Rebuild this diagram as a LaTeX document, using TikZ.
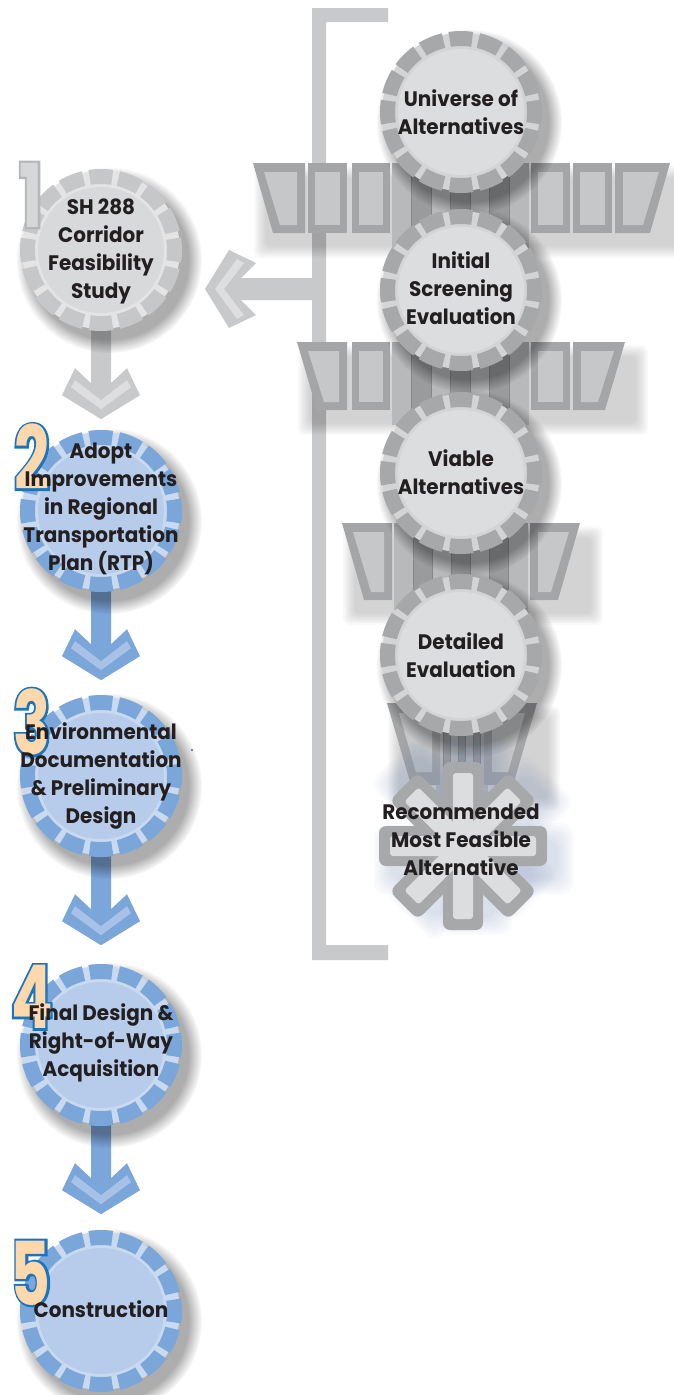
\documentclass[tikz,border=0pt]{standalone}
\usepackage{fontspec}
\setmainfont{Poppins}[FakeStretch=0.95]
\newfontfamily\numfont{Poppins}[FakeStretch=0.7]
\newfontfamily\numfontol{Poppins}[FakeStretch=0.7, FakeBold=5]
\usetikzlibrary{fadings,calc}
\definecolor{txt}{HTML}{231F20}
\definecolor{gseg}{HTML}{A7A8AA}
\definecolor{gring}{HTML}{D3D4D6}
\definecolor{gdisk}{HTML}{DCDDDE}
\definecolor{lseg}{HTML}{C6C7C9}
\definecolor{lring}{HTML}{E4E4E5}
\definecolor{ldisk}{HTML}{D8D9DA}
\definecolor{bseg}{HTML}{7BA6DA}
\definecolor{bring}{HTML}{C9D9EF}
\definecolor{bdisk}{HTML}{B7CCEA}
\definecolor{peach}{HTML}{FCD8AC}
\definecolor{numblue}{HTML}{1C75BC}
\definecolor{ngray}{HTML}{D6D7D9}
\definecolor{ngrayd}{HTML}{B5B6B8}
\definecolor{brk}{HTML}{C8C9CB}
\definecolor{blkout}{HTML}{A4A5A7}
\definecolor{blkin}{HTML}{C6C7C9}
\definecolor{stripA}{HTML}{B8B9BB}
\definecolor{stripB}{HTML}{9A9B9D}
\definecolor{stripD}{HTML}{86878A}
\definecolor{arrG}{HTML}{C8C9CB}
\definecolor{arrGl}{HTML}{DEDEE0}
\definecolor{arrB}{HTML}{7BA6DA}
\definecolor{arrBl}{HTML}{A8C2E7}
\definecolor{starin}{HTML}{DCDDDE}
\definecolor{starsh}{HTML}{7F92B8}
\newcommand\rblk[4]{%
  \fill[blkout] (#1,#3) rectangle (#2,#4);
  \fill[blkin] (#1+7,#3+9) rectangle (#2-7,#4-8);}
\newcommand\lblk[5]{%
  \fill[blkout] (#1,#3) -- (#2,#3) -- (#2,#4) -- (#1+#5,#4) -- cycle;
  \fill[blkin] (#1+11,#3+9) -- (#2-8,#3+9) -- (#2-8,#4-8) -- (#1+#5+7,#4-8) -- cycle;}
\newcommand\rtblk[5]{%
  \fill[blkout] (#1,#3) -- (#2,#3) -- (#2-#5,#4) -- (#1,#4) -- cycle;
  \fill[blkin] (#1+8,#3+9) -- (#2-11,#3+9) -- (#2-#5-7,#4-8) -- (#1+8,#4-8) -- cycle;}
\newcommand\stripsb[4]{%
  \fill[stripB] (#1,#3) rectangle (#2,#4);
  \foreach \i in {0,2,4,6}{\fill[stripA] ({#1+(#2-#1)*\i/7},#3) rectangle ({#1+(#2-#1)*(\i+1)/7},#4);}
  \foreach \i in {1,...,6}{\draw[stripD, line width=1pt] ({#1+(#2-#1)*\i/7},#3) -- ({#1+(#2-#1)*\i/7},#4);}}
\newcommand\softshadow[4]{%
  \foreach \k in {1,...,8}{\fill[black, opacity=0.022, rounded corners=6] (#1+14-\k*1.6,#2+16-\k*1.6) rectangle (#3+10+\k*1.6,#4+12+\k*1.6);}}
\newcommand\gearshadow[2]{%
  \fill[#2, opacity=0.32, path fading=circle with fuzzy edge 15 percent] ($(#1)+(8,10)$) circle (93);}
\newcommand\gearbody[4]{%
  \fill[#3] (#1) circle (79);
  \draw[#2, line width=15pt, dash pattern=on 22.5pt off 6.36pt, dash phase=11.25pt] (#1) circle (73.5);
  \fill[#4] (#1) circle (63);}
\begin{document}
\begin{tikzpicture}[x=1pt,y=-1pt,
  gearnode/.style={circle, minimum size=162pt, inner sep=0pt},
  lbl/.style={align=center, text=txt, font=\fontsize{21}{28}\selectfont\bfseries, inner sep=0pt},
  numol/.style={font=\numfontol\bfseries\fontsize{88}{88}\selectfont, inner sep=0pt},
  numlbl/.style={font=\numfont\bfseries\fontsize{88}{88}\selectfont, inner sep=0pt},
  pics/dnarrow/.style n args={4}{code={
    \fill[#1] (-#4,0) -- (-#4,#3-36) -- (-26,#3-51) -- (-39,#3-24) -- (0,#3) -- (39,#3-24) -- (26,#3-51) -- (#4,#3-36) -- (#4,0) -- cycle;
    \fill[#2] (-30,#3-32) -- (0,#3-10) -- (30,#3-32) -- (26,#3-39) -- (0,#3-19) -- (-26,#3-39) -- cycle;
  }}]
\useasboundingbox (0,0) rectangle (673,1395);

% anchor nodes for the gears
\node[gearnode] (g1) at (101,250) {};
\node[gearnode] (g2) at (101,511) {};
\node[gearnode] (g3) at (101,776) {};
\node[gearnode] (g4) at (101,1045) {};
\node[gearnode] (g5) at (101,1311) {};
\node[gearnode] (ga) at (461,112) {};
\node[gearnode] (gb) at (461,290) {};
\node[gearnode] (gc) at (461,473) {};
\node[gearnode] (gd) at (461,655) {};
\coordinate (st) at (463,846);
\coordinate (brkj) at (320,289);

% bracket
\fill[brk] (312,8) -- (388,8) -- (388,22) -- (326,22) -- (326,945) -- (388,945) -- (388,960) -- (312,960) -- cycle;

% funnel shadows
\softshadow{253}{163}{670}{233}
\softshadow{297}{342}{625}{410}
\softshadow{342}{523}{580}{600}
\softshadow{387}{703}{537}{785}

% funnel row 1
\stripsb{392}{529}{163}{250}
\lblk{253}{305}{163}{233}{20}
\rblk{308}{347}{163}{233}
\rblk{352}{390}{163}{233}
\rblk{531}{570}{163}{233}
\rblk{573}{612}{163}{233}
\rtblk{615}{670}{163}{233}{20}
% row 2
\stripsb{392}{529}{342}{425}
\lblk{297}{347}{342}{410}{20}
\rblk{352}{390}{342}{410}
\rblk{531}{570}{342}{410}
\rtblk{573}{625}{342}{410}{20}
% row 3
\stripsb{394}{528}{523}{610}
\lblk{342}{392}{523}{600}{22}
\rtblk{530}{580}{523}{600}{22}
% row 4
\stripsb{436}{488}{703}{800}
\fill[blkout] (387,703) -- (440,703) -- (440,785) -- (411,785) -- cycle;
\fill[blkout] (484,703) -- (537,703) -- (513,785) -- (484,785) -- cycle;
\fill[blkin] (399,713) -- (432,713) -- (432,772) -- (416,772) -- cycle;
\fill[blkin] (492,713) -- (525,713) -- (508,772) -- (492,772) -- cycle;

% arrows
\pic[rotate=-90] at (brkj) {dnarrow={arrG}{arrGl}{115}{11}};
\pic at ($(g1.south)+(0,-4)$) {dnarrow={arrG}{arrGl}{92}{10}};
\pic at ($(g2.south)+(0,-4)$) {dnarrow={arrB}{arrBl}{92}{10}};
\pic at ($(g3.south)+(0,-4)$) {dnarrow={arrB}{arrBl}{92}{10}};
\pic at ($(g4.south)+(0,-4)$) {dnarrow={arrB}{arrBl}{92}{10}};

% gear shadows
\foreach \g in {g1,g2,g3,g4,g5,ga,gb,gc,gd}{\gearshadow{\g}{black}}

% gears
\gearbody{g1}{lseg}{lring}{ldisk}
\gearbody{g2}{bseg}{bring}{bdisk}
\gearbody{g3}{bseg}{bring}{bdisk}
\gearbody{g4}{bseg}{bring}{bdisk}
\gearbody{g5}{bseg}{bring}{bdisk}
\gearbody{ga}{gseg}{gring}{gdisk}
\gearbody{gb}{gseg}{gring}{gdisk}
\gearbody{gc}{gseg}{gring}{gdisk}
\gearbody{gd}{gseg}{gring}{gdisk}

% star (recommended alternative)
\begin{scope}[shift={(st)}]
  \foreach \k in {1,...,9}{
    \foreach \a in {0,45,90,135}{
      \fill[starsh, opacity=0.035, rounded corners=12, rotate=\a, xshift=11pt, yshift=-13pt] (-82-\k*2,-18-\k*2) rectangle (82+\k*2,18+\k*2);}}
  \foreach \a in {0,45,90,135}{\fill[gseg, rounded corners=7, rotate=\a] (-84,-20) rectangle (84,20);}
  \foreach \a in {0,45,90,135}{\fill[starin, rounded corners=3, rotate=\a] (-73,-10) rectangle (73,10);}
\end{scope}

% numbers (outline layer, then fill layer)
\node[numol, text=ngrayd] (o1) at (31,195) {1};
\node[numlbl, text=ngray] (n1) at (o1) {1};
\node[numol, text=numblue] (o2) at (32,457) {2};
\node[numlbl, text=peach] (n2) at (o2) {2};
\node[numol, text=numblue] (o3) at (32,722) {3};
\node[numlbl, text=peach] (n3) at (o3) {3};
\node[numol, text=numblue] (o4) at (32,997) {4};
\node[numlbl, text=peach] (n4) at (o4) {4};
\node[numol, text=numblue] (o5) at (31,1273) {5};
\node[numlbl, text=peach] (n5) at (o5) {5};

% texts
\node[lbl] (t1) at (101,251) {SH 288\\Corridor\\Feasibility\\Study};
\node[lbl] (t2) at (101,509) {Adopt\\Improvements\\in Regional\\Transportation\\Plan (RTP)};
\node[lbl] (t3) at (101,776) {Environmental\\Documentation\\\& Preliminary\\Design};
\node[lbl] (t4) at (101,1043) {Final Design \&\\Right-of-Way\\Acquisition};
\node[lbl] (t5) at (101,1309) {Construction};
\node[lbl] (ta) at (461,112) {Universe of\\Alternatives};
\node[lbl] (tb) at (461,288) {Initial\\Screening\\Evaluation};
\node[lbl] (tc) at (461,472) {Viable\\Alternatives};
\node[lbl] (td) at (461,655) {Detailed\\Evaluation};
\node[lbl] (te) at (461,840) {Recommended\\Most Feasible\\Alternative};
\fill[txt] (192,750) circle (0.9);
\end{tikzpicture}
\end{document}
